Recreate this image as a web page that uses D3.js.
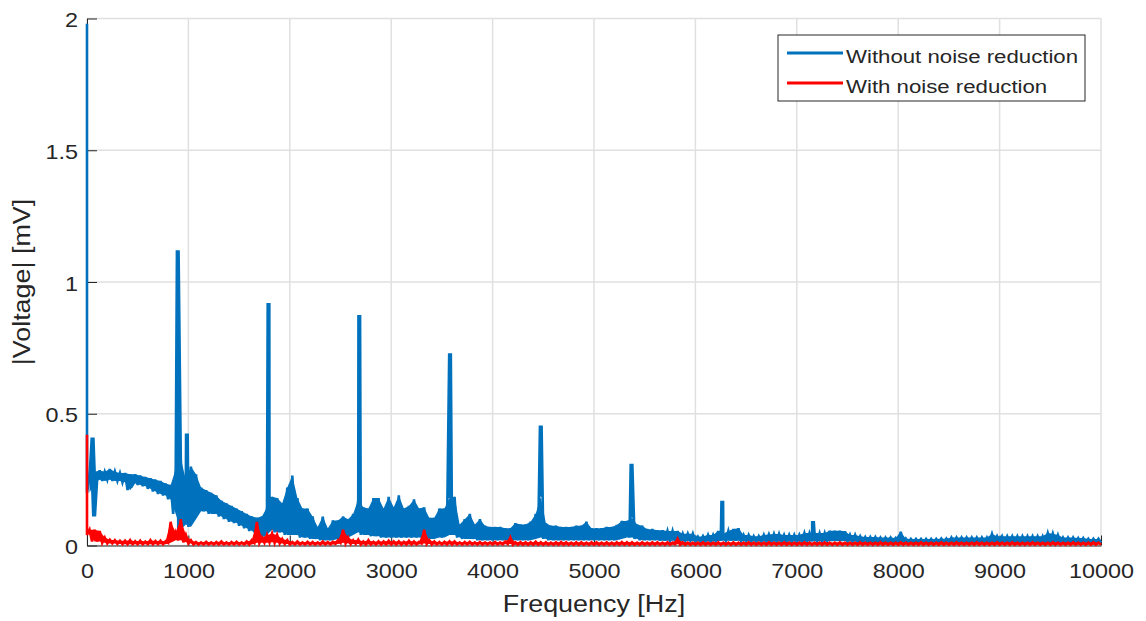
<!DOCTYPE html>
<html>
<head>
<meta charset="utf-8">
<script src="https://cdn.jsdelivr.net/npm/d3@7"></script>
<style>
body { margin: 0; background: #fff; }
text { font-family: "Liberation Sans", Arial, Helvetica, sans-serif; fill: #262626; }
</style>
</head>
<body>
<script>
// spectrum: low / high envelope every 50 Hz (high sits 25 Hz after low)
var binStep = 50;

var blueLo = [
  0.20,0.24,0.25,0.245,0.25,0.245,0.245,0.24,0.21,0.235,
  0.23,0.225,0.215,0.205,0.195,0.19,0.175,0.12,0.06,0.08,
  0.07,0.10,0.13,0.13,0.12,0.12,0.11,0.10,0.09,0.085,
  0.075,0.065,0.055,0.05,0.03,0.04,0.06,0.05,0.05,0.04,
  0.04,0.04,0.03,0.03,0.025,0.025,0.02,0.02,0.02,0.025,
  0.02,0.03,0.04,0.05,0.04,0.04,0.035,0.035,0.03,0.03,
  0.03,0.03,0.03,0.03,0.03,0.03,0.03,0.025,0.025,0.03,
  0.03,0.04,0.04,0.03,0.025,0.025,0.025,0.02,0.02,0.02,
  0.02,0.02,0.02,0.02,0.02,0.02,0.02,0.02,0.025,0.03,
  0.025,0.02,0.02,0.02,0.02,0.02,0.02,0.02,0.02,0.02,
  0.02,0.02,0.02,0.02,0.02,0.025,0.03,0.03,0.025,0.02,
  0.02,0.02,0.02,0.018,0.018,0.018,0.018,0.017,0.017,0.017,
  0.015,0.015,0.015,0.015,0.017,0.018,0.018,0.018,0.018,0.016,
  0.016,0.015,0.015,0.015,0.015,0.015,0.015,0.015,0.015,0.015,
  0.015,0.015,0.015,0.016,0.016,0.016,0.017,0.017,0.017,0.017,
  0.015,0.015,0.014,0.014,0.013,0.013,0.013,0.013,0.013,0.013,
  0.013,0.012,0.012,0.012,0.012,0.012,0.012,0.012,0.012,0.012,
  0.012,0.012,0.012,0.012,0.012,0.012,0.012,0.012,0.012,0.012,
  0.012,0.012,0.012,0.012,0.012,0.012,0.012,0.012,0.012,0.012,
  0.012,0.012,0.011,0.011,0.011,0.011,0.011,0.011,0.011,0.011,
  0.011
];

var blueHi = [
  0.26,0.28,0.285,0.28,0.29,0.28,0.275,0.275,0.27,0.27,
  0.265,0.26,0.255,0.25,0.245,0.235,0.23,0.29,0.33,0.25,
  0.30,0.27,0.22,0.21,0.20,0.19,0.17,0.16,0.15,0.14,
  0.13,0.12,0.11,0.105,0.11,0.145,0.185,0.18,0.16,0.22,
  0.265,0.18,0.14,0.14,0.11,0.07,0.11,0.065,0.095,0.095,
  0.11,0.10,0.12,0.175,0.145,0.14,0.18,0.18,0.14,0.185,
  0.145,0.19,0.14,0.15,0.175,0.14,0.145,0.105,0.105,0.14,
  0.14,0.18,0.185,0.08,0.10,0.12,0.08,0.10,0.075,0.07,
  0.07,0.07,0.065,0.065,0.085,0.08,0.08,0.09,0.12,0.185,
  0.085,0.075,0.075,0.07,0.07,0.07,0.075,0.075,0.09,0.065,
  0.065,0.065,0.07,0.07,0.078,0.093,0.093,0.105,0.08,0.075,
  0.062,0.062,0.058,0.058,0.055,0.055,0.055,0.045,0.045,0.045,
  0.033,0.035,0.04,0.04,0.055,0.045,0.055,0.063,0.065,0.04,
  0.04,0.035,0.035,0.04,0.042,0.044,0.044,0.04,0.04,0.04,
  0.04,0.047,0.047,0.047,0.047,0.047,0.056,0.056,0.056,0.054,
  0.04,0.04,0.035,0.032,0.032,0.032,0.03,0.03,0.03,0.028,
  0.052,0.026,0.025,0.025,0.025,0.025,0.025,0.025,0.026,0.026,
  0.03,0.03,0.03,0.03,0.03,0.03,0.03,0.03,0.044,0.035,
  0.035,0.035,0.035,0.035,0.035,0.035,0.035,0.035,0.035,0.047,
  0.045,0.04,0.03,0.03,0.03,0.028,0.028,0.025,0.025,0.025
];

// narrow peaks (harmonics) of the unfiltered signal
var blueSpikeFreq = [0, 55, 70, 895, 985, 1790, 2685, 3580, 4475, 5370, 6265, 7160];
var blueSpikeVal  = [1.98, 0.41, 0.11, 1.12, 0.42, 0.915, 0.87, 0.73, 0.455, 0.31, 0.165, 0.088];

var redLo = [
  0.04,0.015,0.015,0.01,0.008,0.008,0.006,0.005,0.005,0.005,
  0.005,0.005,0.005,0.005,0.005,0.005,0.01,0.02,0.02,0.012,
  0.008,0.004,0.004,0.004,0.004,0.004,0.004,0.004,0.004,0.004,
  0.004,0.004,0.004,0.01,0.01,0.01,0.012,0.01,0.008,0.006,
  0.004,0.004,0.004,0.004,0.004,0.004,0.004,0.004,0.004,0.006,
  0.01,0.008,0.006,0.006,0.004,0.004,0.004,0.004,0.004,0.004,
  0.004,0.004,0.004,0.004,0.004,0.004,0.008,0.006,0.004,0.004,
  0.004,0.004,0.004,0.004,0.004,0.004,0.004,0.004,0.004,0.004,
  0.004,0.004,0.005,0.006,0.003,0.003,0.003,0.003,0.003,0.003,
  0.003,0.003,0.003,0.003,0.003,0.003,0.003,0.003,0.003,0.003,
  0.003,0.003,0.003,0.003,0.003,0.003,0.003,0.003,0.003,0.003,
  0.003,0.003,0.003,0.003,0.003,0.003,0.005,0.003,0.003,0.003,
  0.003,0.003,0.003,0.003,0.003,0.003,0.003,0.003,0.003,0.003,
  0.003,0.003,0.003,0.003,0.003,0.003,0.003,0.003,0.003,0.003,
  0.003,0.003,0.003,0.003,0.003,0.003,0.003,0.003,0.003,0.003,
  0.003,0.003,0.003,0.003,0.003,0.003,0.003,0.003,0.003,0.003,
  0.003,0.003,0.003,0.003,0.003,0.003,0.003,0.003,0.003,0.003,
  0.003,0.003,0.003,0.003,0.003,0.003,0.003,0.003,0.003,0.003,
  0.003,0.003,0.003,0.003,0.003,0.003,0.003,0.003,0.003,0.003,
  0.003,0.003,0.003,0.003,0.003,0.003,0.003,0.003,0.003,0.003,
  0.003
];

var redHi = [
  0.06,0.06,0.055,0.03,0.022,0.02,0.018,0.018,0.02,0.016,
  0.018,0.015,0.02,0.017,0.018,0.016,0.09,0.05,0.10,0.04,
  0.02,0.013,0.012,0.014,0.012,0.013,0.015,0.012,0.013,0.014,
  0.012,0.015,0.02,0.09,0.03,0.04,0.045,0.04,0.025,0.02,
  0.013,0.015,0.012,0.014,0.013,0.012,0.015,0.013,0.014,0.02,
  0.06,0.03,0.02,0.022,0.015,0.02,0.014,0.016,0.015,0.018,
  0.015,0.016,0.014,0.018,0.015,0.014,0.06,0.02,0.015,0.013,
  0.014,0.016,0.015,0.012,0.013,0.014,0.012,0.013,0.012,0.012,
  0.013,0.012,0.015,0.03,0.012,0.013,0.012,0.012,0.014,0.012,
  0.012,0.011,0.012,0.013,0.012,0.011,0.012,0.012,0.011,0.012,
  0.012,0.011,0.012,0.011,0.012,0.013,0.012,0.012,0.011,0.012,
  0.011,0.012,0.012,0.011,0.012,0.011,0.025,0.012,0.011,0.011,
  0.011,0.012,0.011,0.011,0.012,0.011,0.011,0.012,0.011,0.011,
  0.012,0.011,0.011,0.011,0.012,0.011,0.011,0.012,0.011,0.011,
  0.011,0.012,0.011,0.011,0.011,0.012,0.011,0.011,0.012,0.011,
  0.011,0.011,0.012,0.011,0.011,0.011,0.012,0.011,0.011,0.011,
  0.012,0.011,0.011,0.011,0.012,0.011,0.011,0.011,0.012,0.011,
  0.011,0.012,0.011,0.011,0.011,0.012,0.011,0.011,0.011,0.012,
  0.011,0.011,0.012,0.011,0.011,0.011,0.012,0.011,0.011,0.011,
  0.012,0.011,0.011,0.011,0.012,0.011,0.011,0.011,0.012,0.011
];

var redSpikeFreq = [0];
var redSpikeVal  = [0.42];

var xTicks = [0, 1000, 2000, 3000, 4000, 5000, 6000, 7000, 8000, 9000, 10000];
var yTicks = [0, 0.5, 1, 1.5, 2];
var seriesNames = ["Without noise reduction", "With noise reduction"];
var seriesColors = ["#0072BD", "#FF0000"];

var width = 1146, height = 621,
    plotLeft = 87, plotRight = 1101, plotTop = 18.5, plotBottom = 545.5,
    spikeHalf = 8,    // peaks are a couple of samples wide (Hz)
    stretch = 1.17;   // glyphs in the reference are wider than Arial

var x = d3.scaleLinear().domain([0, 10000]).range([plotLeft, plotRight]);
var y = d3.scaleLinear().domain([0, 2]).range([plotBottom, plotTop]);

var svg = d3.select("body").append("svg")
    .attr("width", width)
    .attr("height", height);

// builds the drawn points: envelope zigzag plus the narrow peaks
function buildSeries(lo, hi, spikeF, spikeV) {
  var pts = [];
  spikeF.forEach((f, i) => {
    if (f === 0) pts.push({f: 0, v: spikeV[i]});
    else pts.push({f: f - spikeHalf, v: spikeV[i]}, {f: f + spikeHalf, v: spikeV[i]});
  });
  lo.forEach((v, k) => {
    pts.push({f: k * binStep, v: v});
    if (k < hi.length) pts.push({f: k * binStep + binStep / 2, v: hi[k]});
  });
  return pts.sort((a, b) => a.f - b.f);
}

// the band between low and high of each bin (the dense samples fill it)
function buildBand(lo, hi) {
  return hi.map((h, k) => ({f: k * binStep + binStep / 2, lo: lo[k], hi: h}));
}

var series = [
  buildSeries(blueLo, blueHi, blueSpikeFreq, blueSpikeVal),
  buildSeries(redLo, redHi, redSpikeFreq, redSpikeVal)
];
var bands = [buildBand(blueLo, blueHi), buildBand(redLo, redHi)];

// grid
svg.append("g").selectAll("line")
    .data(xTicks)
  .enter().append("line")
    .attr("x1", (d) => x(d)).attr("x2", (d) => x(d))
    .attr("y1", plotTop).attr("y2", plotBottom)
    .attr("stroke", "#e0e0e0").attr("stroke-width", 1.5);

svg.append("g").selectAll("line")
    .data(yTicks)
  .enter().append("line")
    .attr("y1", (d) => y(d)).attr("y2", (d) => y(d))
    .attr("x1", plotLeft).attr("x2", plotRight)
    .attr("stroke", "#e0e0e0").attr("stroke-width", 1.5);

// axes (ticks point inward)
var xAxis = svg.append("g")
    .attr("transform", `translate(0,${plotBottom})`)
    .call(d3.axisBottom(x).tickValues(xTicks).tickFormat(d3.format("d"))
      .tickSizeInner(-10).tickSizeOuter(0));

xAxis.selectAll("text")
    .attr("y", 32.5).attr("dy", null)
    .attr("transform", `scale(${stretch},1)`)
    .style("font-size", "20px");

var yAxis = svg.append("g")
    .attr("transform", `translate(${plotLeft},0)`)
    .call(d3.axisLeft(y).tickValues(yTicks).tickFormat((d) => String(d))
      .tickSizeInner(-10).tickSizeOuter(0));

yAxis.selectAll("text")
    .attr("x", -9 / stretch).attr("y", 8).attr("dy", null)
    .attr("transform", `scale(${stretch},1)`)
    .style("font-size", "20px");

svg.selectAll(".domain, .tick line")
    .attr("stroke", "#262626").attr("stroke-width", 1);

// data
var area = d3.area()
    .x((d) => x(d.f))
    .y0((d) => y(d.lo))
    .y1((d) => y(d.hi));

var line = d3.line()
    .x((d) => x(d.f))
    .y((d) => y(d.v));

var plot = svg.append("g");

series.forEach((s, i) => {
  plot.append("path")
      .datum(bands[i])
      .attr("d", area)
      .attr("fill", seriesColors[i]);

  plot.append("path")
      .datum(s)
      .attr("d", line)
      .attr("fill", "none")
      .attr("stroke", seriesColors[i])
      .attr("stroke-width", 2.6);
});

// axis labels
svg.append("g")
    .attr("transform", `translate(${(plotLeft + plotRight) / 2},612)`)
  .append("text")
    .attr("text-anchor", "middle")
    .attr("transform", `scale(${stretch},1)`)
    .style("font-size", "23px")
    .text("Frequency [Hz]");

svg.append("g")
    .attr("transform", `translate(30,${(plotTop + plotBottom) / 2}) rotate(-90)`)
  .append("text")
    .attr("text-anchor", "middle")
    .attr("transform", `scale(${stretch},1)`)
    .style("font-size", "23px")
    .text("|Voltage| [mV]");

// legend
var legend = svg.append("g").attr("transform", "translate(778,35)");

legend.append("rect")
    .attr("width", 307).attr("height", 66)
    .attr("fill", "#fff")
    .attr("stroke", "#262626").attr("stroke-width", 1);

var item = legend.selectAll(".item")
    .data(seriesNames)
  .enter().append("g")
    .attr("class", "item")
    .attr("transform", (d, i) => `translate(0,${18 + i * 30})`);

item.append("line")
    .attr("x1", 9).attr("x2", 65)
    .attr("stroke", (d, i) => seriesColors[i])
    .attr("stroke-width", 3);

item.append("text")
    .attr("x", 68 / stretch).attr("y", 9.5)
    .attr("transform", `scale(${stretch},1)`)
    .style("font-size", "19px")
    .text((d) => d);
</script>
</body>
</html>
